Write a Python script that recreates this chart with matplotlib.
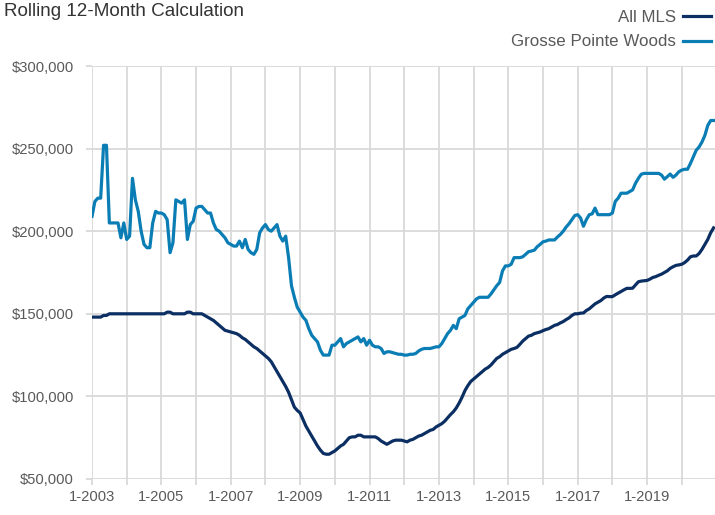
import matplotlib
matplotlib.use("Agg")
import matplotlib.pyplot as plt
import numpy as np

plt.rcParams['font.family'] = ['Liberation Sans', 'DejaVu Sans']

# monthly values, Jan 2003 .. Dec 2020, in $ thousands
all_mls = [
    148, 148, 148, 148, 149, 149, 150, 150, 150, 150, 150, 150,        # 2003
    150, 150, 150, 150, 150, 150, 150, 150, 150, 150, 150, 150,        # 2004
    150, 150, 151, 151, 150, 150, 150, 150, 150, 151, 151, 150,        # 2005
    150, 150, 150, 149, 148, 147, 146, 144.5, 143, 141.5, 140, 139.5,  # 2006
    139, 138.5, 138, 137, 135.5, 134.5, 133, 131.5, 130, 129, 127.5, 126,  # 2007
    124.5, 123, 121, 118, 115, 112, 109, 106, 102.5, 98, 93.5, 91.5,   # 2008
    90, 86, 82, 79, 76, 73, 70, 67.5, 65.5, 65, 65, 66,                # 2009
    67, 68.5, 70, 71, 73, 75, 75.5, 75.5, 76.5, 76.5, 75.5, 75.5,      # 2010
    75.5, 75.5, 75.5, 74.5, 73, 72, 71, 72, 73, 73.5, 73.5, 73.5,      # 2011
    73, 72.5, 73.5, 74, 75, 76, 76.5, 77.5, 78.5, 79.5, 80, 81.5,      # 2012
    82.5, 83.5, 85, 87, 89, 90.7, 93, 96, 99.5, 103.5, 106.5, 109,     # 2013
    110.5, 112, 113.5, 115, 116.5, 117.5, 119, 121, 123, 124, 125.5, 126.5,  # 2014
    127.5, 128.5, 129, 129.7, 131.5, 133.5, 135, 136.5, 137, 138, 138.5, 139,  # 2015
    139.8, 140.5, 141, 142, 143, 143.5, 144.5, 145.3, 146.5, 147.5, 149, 150,  # 2016
    150, 150.4, 150.5, 152, 153, 154.5, 156, 157, 158, 159.5, 160.5, 160.4,    # 2017
    160.4, 161.5, 162.5, 163.5, 164.5, 165.4, 165.4, 165.5, 167.5, 169.4, 169.8, 170,  # 2018
    170.2, 171, 172, 172.5, 173.3, 174, 175, 176, 177.5, 178.5, 179.3, 179.6,  # 2019
    180, 181, 182.5, 184.5, 185, 185, 186.5, 189, 192, 195, 199, 202,  # 2020
]
gpw = [
    209, 218, 220, 220, 252, 252, 205, 205, 205, 205, 196, 205,        # 2003
    195, 197, 232, 219, 212, 200, 192, 190, 190, 205, 212, 211,        # 2004
    211, 210, 207, 187, 193, 219, 218, 217, 219, 195, 204, 206,        # 2005
    214, 215, 215, 213, 211, 211, 205, 201, 200, 198, 196, 193,        # 2006
    192, 191, 191, 194, 190, 195, 189, 187, 186, 189, 199, 202,        # 2007
    204, 201, 200, 202, 204, 197, 194, 197, 184, 167, 160, 154,        # 2008
    151, 148, 146, 141, 137, 135, 133, 128, 125, 125, 125, 131,        # 2009
    131, 133, 135, 130, 132, 133, 134, 135, 136, 133, 135, 131,        # 2010
    134, 131, 130, 130, 129, 126, 127, 127, 126.5, 126, 125.5, 125.5,  # 2011
    125, 125, 125.5, 125.5, 126, 127.5, 128.5, 129, 129, 129, 129.5, 130,  # 2012
    130, 132, 135, 138, 140, 143, 141, 147, 148, 149, 153, 155,        # 2013
    157, 159, 160, 160, 160, 160, 162, 164.5, 167, 169, 176, 179,      # 2014
    179, 180, 184, 184, 184, 184.5, 186, 187.6, 188, 188.5, 190.6, 192,  # 2015
    193.6, 194, 194.7, 194.7, 194.7, 196.5, 198, 200, 202.5, 204.5, 207, 209.5,  # 2016
    210, 208, 203, 207, 210, 210.5, 214, 210, 210, 210, 210, 210,      # 2017
    211, 218, 220, 223, 223, 223, 224, 225, 229, 232, 234.5, 235,      # 2018
    235, 235, 235, 235, 235, 234, 231.5, 233, 234.6, 232.6, 234, 236,  # 2019
    237, 237.5, 237.5, 241, 245, 249, 251, 254, 258, 264, 267, 267,    # 2020
]
series_names = ['All MLS', 'Grosse Pointe Woods']
series_colors = ['#0c2f63', '#0a7db5']
years = list(range(2003, 2021))
yticks = [50000, 100000, 150000, 200000, 250000, 300000]

months = np.arange(len(all_mls))
grid_c = '#d9d9d9'
text_c = '#595959'

fig = plt.figure(figsize=(7.15, 5.15), dpi=100)
ax = fig.add_axes([92 / 715, 36 / 515, 623 / 715, 413 / 515])

lines = []
for vals, name, col in zip([all_mls, gpw], series_names, series_colors):
    ln, = ax.plot(months, np.array(vals) * 1000, color=col, lw=2.3,
                  solid_joinstyle='round', label=name, zorder=3)
    lines.append(ln)

ax.set_xlim(0, 215.5)
ax.set_ylim(50000, 300000)

year_pos = [(y - 2003) * 12 for y in years]
ax.set_xticks(year_pos[::2])
ax.set_xticklabels(['1-%d' % y for y in years[::2]])
ax.set_xticks(year_pos[1::2], minor=True)
ax.set_yticks(yticks)
ax.set_yticklabels(['${:,.0f}'.format(v) for v in yticks])

for s in ax.spines.values():
    s.set_visible(False)
ax.grid(True, which='both', color=grid_c, lw=1.3, zorder=0)
ax.tick_params(axis='both', which='both', color=grid_c, width=1.3,
               labelcolor=text_c, labelsize=10.6)
ax.tick_params(axis='y', length=4, pad=9)
ax.tick_params(axis='x', which='both', length=4, pad=4)

fig.text(0.006, 0.995, 'Rolling 12-Month Calculation', ha='left', va='top',
         fontsize=13.6, color='#333333')

fig.legend(handles=lines, loc='upper right', bbox_to_anchor=(1.008, 1.0),
           markerfirst=False, frameon=False, fontsize=12.2, labelcolor=text_c,
           handlelength=1.6, handletextpad=0.45, labelspacing=0.55,
           borderaxespad=0.2)

fig.savefig('out.png', dpi=100)
